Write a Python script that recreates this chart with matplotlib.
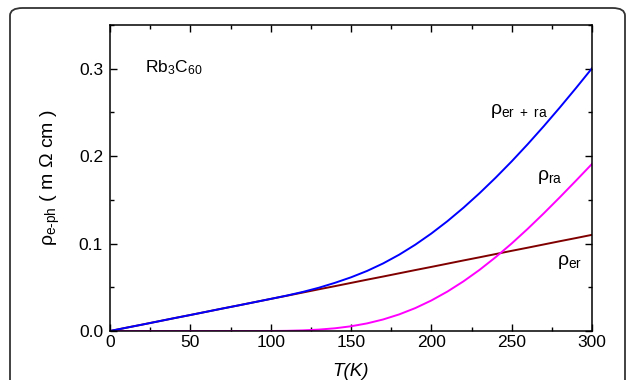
import matplotlib
matplotlib.use("Agg")
import matplotlib.pyplot as plt
from matplotlib.patches import FancyBboxPatch
from matplotlib.ticker import MultipleLocator, FormatStrFormatter

plt.rcParams['font.family'] = ['Liberation Sans', 'DejaVu Sans']
plt.rcParams['mathtext.fontset'] = 'custom'
plt.rcParams['mathtext.rm'] = 'Liberation Sans'
plt.rcParams['mathtext.it'] = 'Liberation Sans:italic'
plt.rcParams['mathtext.default'] = 'regular'

# temperatura (K), lecturas cada 10 K
T = [0, 10, 20, 30, 40, 50, 60, 70, 80, 90, 100, 110, 120, 130, 140, 150,
     160, 170, 180, 190, 200, 210, 220, 230, 240, 250, 260, 270, 280, 290, 300]

# rho_er (marron)
rho_er = [0.0, 0.0037, 0.0073, 0.011, 0.0147, 0.0183, 0.022, 0.0257, 0.0293, 0.033,
          0.0367, 0.0403, 0.044, 0.0477, 0.0513, 0.055, 0.0587, 0.0623, 0.066, 0.0697,
          0.0733, 0.077, 0.0807, 0.0843, 0.088, 0.0917, 0.0953, 0.099, 0.1027, 0.1063, 0.110]

# rho_ra (magenta)
rho_ra = [0.0, 0.0, 0.0, 0.0, 0.0, 0.0, 0.0, 0.0, 0.0, 0.0,
          0.0, 0.0002, 0.0007, 0.0016, 0.0031, 0.0054, 0.0087, 0.0132, 0.019, 0.0262,
          0.0349, 0.0451, 0.0568, 0.0699, 0.0844, 0.1001, 0.1169, 0.1346, 0.153, 0.1719, 0.1911]

# rho_er+ra (azul)
rho_tot = [0.0, 0.0037, 0.0073, 0.011, 0.0147, 0.0183, 0.022, 0.0257, 0.0293, 0.033,
           0.0367, 0.0405, 0.0447, 0.0495, 0.0551, 0.0614, 0.0687, 0.0773, 0.0873, 0.0987,
           0.1115, 0.1256, 0.141, 0.1576, 0.1753, 0.194, 0.2137, 0.2343, 0.2557, 0.2778, 0.3005]

fig = plt.figure(figsize=(6.27, 3.8), dpi=100)
ax = fig.add_axes([110 / 627, 1 - 331 / 380, 482 / 627, 306 / 380])

# marco redondeado alrededor de la figura
marco = FancyBboxPatch((10 / 627, -0.2), 615 / 627, 1.2 - 8 / 380,
                       boxstyle="round,pad=0,rounding_size=0.02",
                       transform=fig.transFigure, fill=False,
                       edgecolor='#333333', linewidth=1.3, zorder=-1)
fig.patches.append(marco)

ax.plot(T, rho_er, color='#800000', lw=1.4)
ax.plot(T, rho_ra, color='#ff00ff', lw=1.4)
ax.plot(T, rho_tot, color='#0000ff', lw=1.4)

ax.set_xlim(0, 300)
ax.set_ylim(0, 0.35)
ax.xaxis.set_major_locator(MultipleLocator(50))
ax.xaxis.set_minor_locator(MultipleLocator(25))
ax.yaxis.set_major_locator(MultipleLocator(0.1))
ax.yaxis.set_minor_locator(MultipleLocator(0.05))
ax.yaxis.set_major_formatter(FormatStrFormatter('%.1f'))
ax.tick_params(which='both', direction='in', top=True, right=True, labelsize=12.5)
ax.tick_params(which='major', length=5, width=1)
ax.tick_params(which='minor', length=3, width=1)
ax.tick_params(axis='x', pad=3)
ax.tick_params(axis='y', pad=5)
for s in ax.spines.values():
    s.set_linewidth(1.1)

ax.set_xlabel('T(K)', fontsize=13.5, style='italic', labelpad=9)
ax.set_ylabel('ρ$_{e\u2010ph}$ ( m Ω cm )', fontsize=14, labelpad=12)

ax.text(22, 0.301, 'Rb$_3$C$_{60}$', fontsize=12.5, va='center')
ax.text(236.5, 0.252, 'ρ$_{er\\ +\\ ra}$', fontsize=14, va='center')
ax.text(266, 0.176, 'ρ$_{ra}$', fontsize=14, va='center')
ax.text(278.5, 0.079, 'ρ$_{er}$', fontsize=14, va='center')

fig.savefig('out.png', dpi=100)
